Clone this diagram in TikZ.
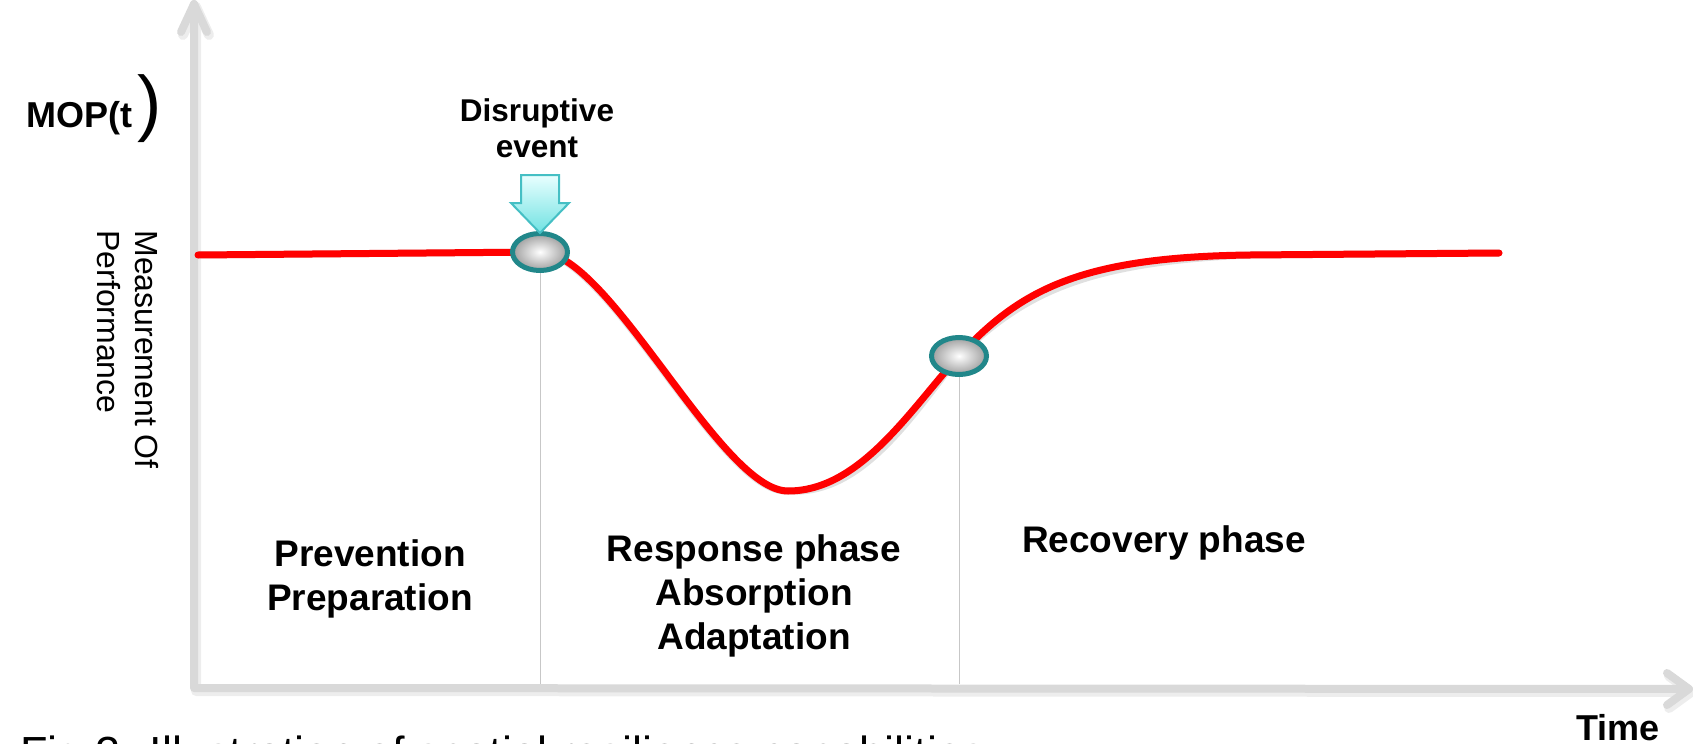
\documentclass[tikz,border=0pt]{standalone}
\usepackage{fontspec}
\setmainfont{Liberation Sans}
\usetikzlibrary{shapes.geometric}
\definecolor{axisgray}{HTML}{D9D9D9}
\definecolor{tealring}{HTML}{21878A}
\definecolor{cyanlight}{HTML}{E8FFFF}
\definecolor{cyanmid}{HTML}{70E2E2}
\definecolor{cyanborder}{HTML}{45BFC4}
\begin{document}
\begin{tikzpicture}[x=0.5pt,y=-0.5pt,
  axisline/.style={draw=axisgray,line width=4pt,line join=round,line cap=round},
  axisshadow/.style={draw=black!7,line width=5pt,line join=round,line cap=round},
  curve/.style={draw=red,line width=3.5pt,line cap=round},
  curveshadow/.style={draw=black!12,line width=3.5pt,line cap=round},
  marker/.style={ellipse,minimum width=27.5pt,minimum height=18.5pt,inner sep=0pt,
    draw=tealring,line width=2.5pt,inner color=white,outer color=black!38},
  guide/.style={draw=black!22,line width=0.5pt},
  phase/.style={font=\fontsize{18.5}{22}\selectfont\bfseries,anchor=base,inner sep=0pt},
  lbl/.style={anchor=base,inner sep=0pt},
]
\useasboundingbox (0,0) rectangle (1693,744);
\clip (0,0) rectangle (1693,744);

% axes
\coordinate (yt) at (194,4);
\coordinate (corner) at (194,688);
\coordinate (xt) at (1689,689);
\coordinate (ybl) at (181,32);
\coordinate (ybr) at (207,32);
\coordinate (xbu) at (1667,673);
\coordinate (xbd) at (1667,705);
\draw[axisshadow] ([shift={(2,3)}]yt) -- ([shift={(2,3)}]corner) -- ([shift={(2,3)}]xt);
\draw[axisshadow] ([shift={(2,3)}]ybl) -- ([shift={(2,3)}]yt) -- ([shift={(2,3)}]ybr);
\draw[axisshadow] ([shift={(2,3)}]xbu) -- ([shift={(2,3)}]xt) -- ([shift={(2,3)}]xbd);
\draw[axisline] (yt) -- (corner) -- (xt);
\draw[axisline] (ybl) -- (yt) -- (ybr);
\draw[axisline] (xbu) -- (xt) -- (xbd);

% curve points
\coordinate (c0) at (198,255);
\coordinate (p1) at (540,252);
\coordinate (cmin) at (788,491);
\coordinate (p2) at (959,356);
\coordinate (c8) at (1250,255);
\coordinate (c9) at (1499,253);

% guides
\coordinate (g1) at (540,684);
\coordinate (g2) at (959,684);
\draw[guide] (p1) -- (g1);
\draw[guide] (p2) -- (g2);

% curve with shadow
\draw[curveshadow,shift={(2,5)}] (c0) -- (p1) .. controls (610,252) and (720,491) .. (cmin)
  .. controls (860,491) and (910,410) .. (p2) .. controls (1020,290) and (1080,257) .. (c8) -- (c9);
\draw[curve] (c0) -- (p1) .. controls (610,252) and (720,491) .. (cmin)
  .. controls (860,491) and (910,410) .. (p2) .. controls (1020,290) and (1080,257) .. (c8) -- (c9);

% markers
\node[marker] (e1) at (p1) {};
\node[marker] (e2) at (p2) {};

% disruptive event arrow
\shade[top color=cyanlight,bottom color=cyanmid,draw=cyanborder,line width=1pt,line join=miter]
  (521,175) -- (559,175) -- (559,203) -- (569,203) -- (540,233) -- (511,203) -- (521,203) -- cycle;

% labels
\node[anchor=base west,inner sep=0pt,font=\fontsize{18}{21}\selectfont\bfseries] (mop) at (26,127) {MOP(t};
\node[anchor=base west,inner sep=0pt,font=\fontsize{36.5}{40}\selectfont] (paren) at (137,127) {)};

\node[lbl,font=\fontsize{15.75}{18}\selectfont\bfseries] (dis1) at (537,121) {Disruptive};
\node[lbl,font=\fontsize{15.75}{18}\selectfont\bfseries] (dis2) at (537,157) {event};

\node[anchor=base west,inner sep=0pt,rotate=-90,font=\fontsize{16}{19}\selectfont] (mop1) at (135,230) {Measurement Of};
\node[anchor=base west,inner sep=0pt,rotate=-90,font=\fontsize{16}{19}\selectfont] (mop2) at (97,230) {Performance};

\node[phase] (pa) at (370,566) {Prevention};
\node[phase] (pb) at (370,610) {Preparation};
\node[phase] (ra) at (754,561) {Response phase};
\node[phase] (rb) at (754,605) {Absorption};
\node[phase] (rc) at (754,649) {Adaptation};
\node[phase] (rec) at (1164,552) {Recovery phase};

\node[lbl,font=\fontsize{18}{21}\selectfont\bfseries] (time) at (1618,740) {Time};

\node[anchor=base west,inner sep=0pt,font=\fontsize{22.5}{27}\selectfont] (cap) at (20,768) {Fig.2. Illustration of spatial resilience capabilities};
\end{tikzpicture}
\end{document}
